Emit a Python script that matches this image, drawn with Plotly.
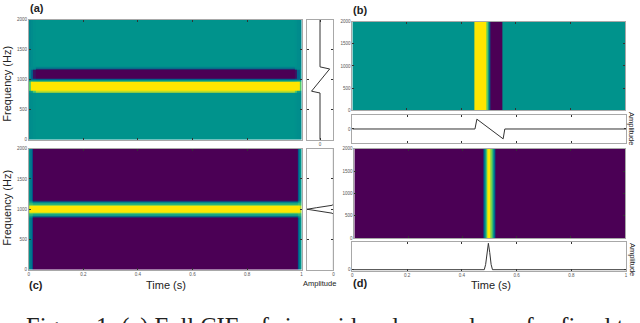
import plotly.graph_objects as go

W, H = 640, 323

# hcl viridis, same as the picture
colori = [[0, "#4B0055"], [0.25, "#00588B"], [0.5, "#00938C"], [0.75, "#53CC67"], [1, "#FFE600"]]

# (a) sinusoid
a_time_edges = [0, 0.008, 0.016, 0.024, 0.976, 0.984, 0.992, 1]
a_freq_edges = [0, 790, 815, 960, 975, 990, 1005, 1020, 1170, 1190, 1210, 2000]
a_z = [
    [0.47, 0.48, 0.49, 0.50, 0.49, 0.48, 0.47],
    [0.52, 0.55, 0.75, 0.90, 0.75, 0.55, 0.52],
    [0.75, 1.00, 1.00, 1.00, 1.00, 1.00, 0.75],
    [0.85, 1.00, 0.90, 0.75, 0.90, 1.00, 0.85],
    [0.60, 0.65, 0.62, 0.60, 0.62, 0.65, 0.60],
    [0.48, 0.48, 0.48, 0.48, 0.48, 0.48, 0.48],
    [0.40, 0.30, 0.28, 0.25, 0.28, 0.30, 0.40],
    [0.46, 0.30, 0.05, 0.00, 0.05, 0.30, 0.46],
    [0.46, 0.46, 0.40, 0.15, 0.40, 0.46, 0.46],
    [0.47, 0.47, 0.47, 0.42, 0.47, 0.47, 0.47],
    [0.45, 0.47, 0.49, 0.50, 0.49, 0.47, 0.45],
]
a_amp = [0, 0, -0.63, 0.72, 0, 0]
a_amp_freq = [0, 780, 810, 1180, 1215, 2000]

# (b) impulse
b_time_edges = [0, 0.449, 0.493, 0.497, 0.500, 0.503, 0.507, 0.551, 1]
b_freq_edges = [0, 2000]
b_z = [[0.5, 1, 0.75, 0.6, 0.4, 0.25, 0, 0.5]]
b_time = [0, 0.448, 0.455, 0.551, 0.557, 1]
b_amp = [0, 0, 1, -1, 0, 0]

# (c) gaussian along frequency
c_time_edges = [0, 0.005, 0.010, 0.015, 0.985, 0.990, 0.995, 1]
c_freq_edges = [0, 860, 880, 900, 920, 943, 1057, 1080, 1100, 1120, 1135, 2000]
c_z = [
    [0.50, 0.40, 0.25, 0.00, 0.25, 0.40, 0.50],
    [0.55, 0.50, 0.40, 0.15, 0.40, 0.50, 0.55],
    [0.58, 0.55, 0.50, 0.40, 0.50, 0.55, 0.58],
    [0.65, 0.65, 0.65, 0.58, 0.65, 0.65, 0.65],
    [0.75, 0.80, 0.80, 0.78, 0.80, 0.80, 0.75],
    [0.90, 1.00, 1.00, 1.00, 1.00, 1.00, 0.90],
    [0.75, 0.80, 0.80, 0.78, 0.80, 0.80, 0.75],
    [0.65, 0.65, 0.65, 0.58, 0.65, 0.65, 0.65],
    [0.58, 0.55, 0.50, 0.40, 0.50, 0.55, 0.58],
    [0.55, 0.50, 0.40, 0.15, 0.40, 0.50, 0.55],
    [0.50, 0.40, 0.25, 0.00, 0.25, 0.40, 0.50],
]
c_amp = [0, 0, 0.05, 0.3, 0.65, 1, 0.65, 0.3, 0.05, 0, 0]
c_amp_freq = [0, 915, 935, 955, 975, 1000, 1025, 1045, 1065, 1085, 2000]

# (d) gaussian along time
d_time_edges = [0, 0.476, 0.480, 0.484, 0.488, 0.492, 0.504, 0.508, 0.512, 0.516, 0.520, 1]
d_freq_edges = [0, 2000]
d_z = [[0, 0.25, 0.45, 0.6, 0.8, 1, 0.8, 0.6, 0.45, 0.25, 0]]
d_time = [0, 0.482, 0.487, 0.492, 0.497, 0.502, 0.507, 0.512, 1]
d_amp = [0, 0, 0.2, 0.65, 1, 0.65, 0.2, 0, 0]

freq_ticks = [0, 500, 1000, 1500, 2000]
time_ticks = [0, 0.2, 0.4, 0.6, 0.8, 1]
time_labels = ["0", "0.2", "0.4", "0.6", "0.8", "1"]

fig = go.Figure()


# pannelli posizionati in pixel
def dom_x(x0, x1):
    return [x0 / W, x1 / W]


def dom_y(y0, y1):
    return [1 - y1 / H, 1 - y0 / H]


def asse(dominio, rng, ticks, labels=None, linea="#a8a8a8", **kw):
    return dict(domain=dominio, range=rng, tickvals=ticks, ticktext=labels, ticks="inside", ticklen=2,
                tickwidth=1, tickcolor="#333333", showline=True, linecolor=linea, linewidth=1, mirror="ticks",
                showgrid=False, zeroline=False, tickfont=dict(size=4.5, color="#555555", family="Liberation Sans"),
                **kw)


def mappa(n, xe, ye, z):
    fig.add_trace(go.Heatmap(x=xe, y=ye, z=z, colorscale=colori, zmin=0, zmax=1, showscale=False,
                             xaxis=f"x{n}", yaxis=f"y{n}"))


def linea(n, x, y):
    fig.add_trace(go.Scatter(x=x, y=y, mode="lines", line=dict(color="#333333", width=1), showlegend=False,
                             xaxis=f"x{n}", yaxis=f"y{n}"))


mappa(1, a_time_edges, a_freq_edges, a_z)
linea(2, a_amp, a_amp_freq)
mappa(3, b_time_edges, b_freq_edges, b_z)
linea(4, b_time, b_amp)
mappa(5, c_time_edges, c_freq_edges, c_z)
linea(6, c_amp, c_amp_freq)
mappa(7, d_time_edges, d_freq_edges, d_z)
linea(8, d_time, d_amp)

vuoto = [""] * 6
layout = dict(
    xaxis=asse(dom_x(28, 302), [0, 1], time_ticks, vuoto, anchor="y"),
    yaxis=asse(dom_y(18, 140), [0, 2000], freq_ticks, None, anchor="x"),
    xaxis2=asse(dom_x(307, 334), [-1, 1], [0], ["0"], anchor="y2"),
    yaxis2=asse(dom_y(18, 140), [0, 2000], freq_ticks, [""] * 5, anchor="x2"),
    xaxis3=asse(dom_x(353, 627), [0, 1], time_ticks, vuoto, anchor="y3"),
    yaxis3=asse(dom_y(20, 110), [0, 2000], freq_ticks, None, anchor="x3"),
    xaxis4=asse(dom_x(353, 628), [0, 1], time_ticks, vuoto, anchor="y4"),
    yaxis4=asse(dom_y(115, 143), [-1.4, 1.4], [0], ["0"], anchor="x4"),
    xaxis5=asse(dom_x(28, 302), [0, 1], time_ticks, time_labels, anchor="y5"),
    yaxis5=asse(dom_y(149, 272), [0, 2000], freq_ticks, None, anchor="x5"),
    xaxis6=asse(dom_x(307, 334), [1.02, 0], [0], ["0"], anchor="y6"),
    yaxis6=asse(dom_y(149, 272), [0, 2000], freq_ticks, [""] * 5, anchor="x6"),
    xaxis7=asse(dom_x(355, 627), [0, 1], time_ticks, vuoto, anchor="y7"),
    yaxis7=asse(dom_y(149, 240), [0, 2000], freq_ticks, None, anchor="x7"),
    xaxis8=asse(dom_x(353, 628), [0, 1], time_ticks, time_labels, anchor="y8"),
    yaxis8=asse(dom_y(244, 273), [-0.04, 1.04], [0], ["0"], anchor="x8"),
)
fig.update_layout(**layout)


def testo(px, py, s, size, bold=False, angle=0, color="#222222", family="Liberation Sans"):
    fig.add_annotation(x=px / W, y=1 - py / H, xref="paper", yref="paper", text=f"<b>{s}</b>" if bold else s,
                       showarrow=False, textangle=angle, font=dict(size=size, color=color, family=family),
                       xanchor="center", yanchor="middle")


testo(36, 6, "(a)", 11, bold=True)
testo(361, 8, "(b)", 11, bold=True)
testo(35, 287, "(c)", 11, bold=True)
testo(361, 285, "(d)", 11, bold=True)
testo(6, 83, "Frequency (Hz)", 11, angle=-90)
testo(6, 209, "Frequency (Hz)", 11, angle=-90)
testo(166, 287, "Time (s)", 11)
testo(492, 287, "Time (s)", 11)
testo(320, 286, "Amplitude", 7.5)
testo(634, 128, "Amplitude", 7.5, angle=90)
testo(634, 261, "Amplitude", 7.5, angle=90)
# la didascalia e' tagliata dal bordo anche nell'originale
testo(326, 330, "Figure 1: (a) Full CIF, of sinusoid and one column for fixed t", 24.5,
      color="#222222", family="Liberation Serif")

fig.update_layout(width=W, height=H, margin=dict(l=0, r=0, t=0, b=0), paper_bgcolor="white",
                  plot_bgcolor="white", showlegend=False)

# il body ha 8px di margine di default
fig.write_html("out.html", config={"displayModeBar": False}, post_script="document.body.style.margin='0';")
